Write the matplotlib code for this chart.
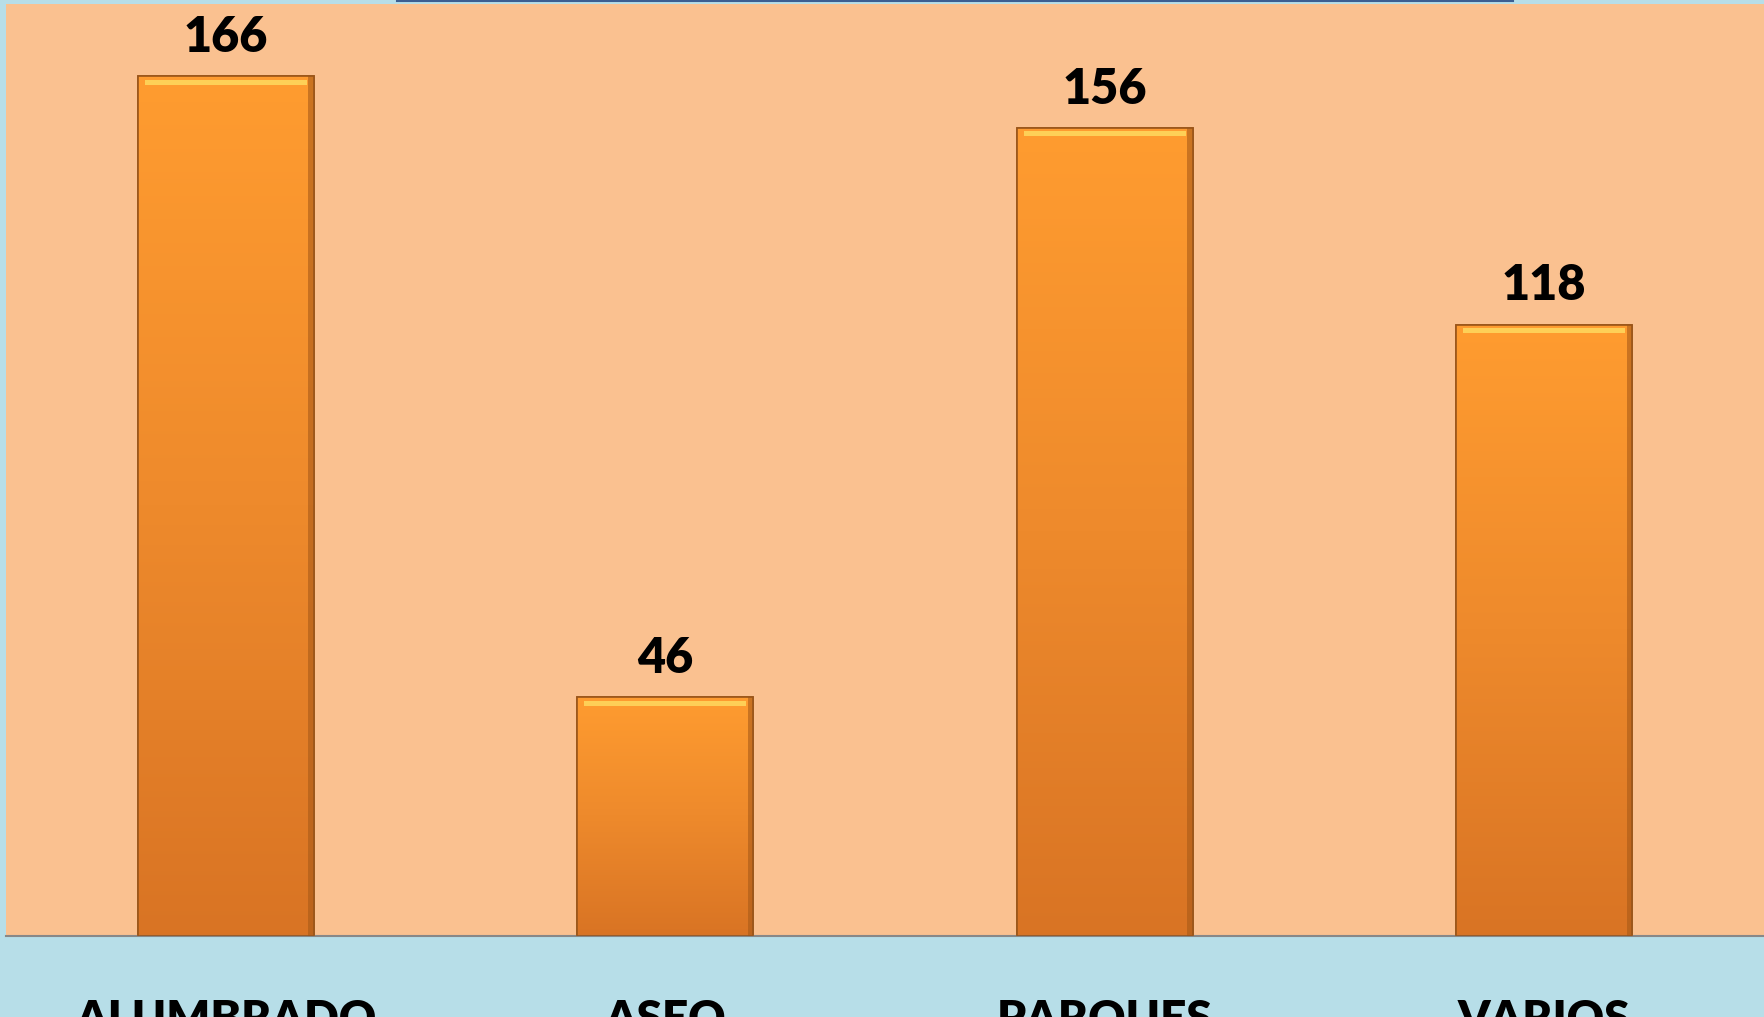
import numpy as np
import matplotlib.pyplot as plt
from matplotlib.lines import Line2D
from matplotlib.colors import LinearSegmentedColormap

# Data
categories = ["ALUMBRADO", "ASEO", "PARQUES", "VARIOS"]
values = [166, 46, 156, 118]

plt.rcParams['font.family'] = ['Lato', 'DejaVu Sans']

fig = plt.figure(figsize=(17.64, 10.17), dpi=100, facecolor="#B7DEE8")
ax = fig.add_axes([6/1764, 1 - 935.5/1017, 1 - 6/1764, (935.5 - 4)/1017])
ax.set_facecolor("#FAC190")

x = np.arange(len(categories))
bars = ax.bar(x, values, width=0.40, color="#F58A2C", edgecolor="#9A5519",
              linewidth=1.2, zorder=2)

# vertical gradient on each bar
grad = np.linspace(0, 1, 256).reshape(-1, 1)
cmap = LinearSegmentedColormap.from_list("bar", ["#D97424", "#EE8A2C", "#FF9C30"])
for b in bars:
    x0, w, h = b.get_x(), b.get_width(), b.get_height()
    im = ax.imshow(grad, extent=[x0, x0 + w, 0, h], origin="lower", cmap=cmap,
                   aspect="auto", zorder=2.5)
    im.set_clip_path(b)
    # top highlight strip
    ax.fill_between([x0 + w*0.04, x0 + w*0.96], h - 1.6, h - 0.6,
                    color="#FFD65C", alpha=0.9, zorder=3, linewidth=0)
    # right side shadow
    ax.fill_between([x0 + w*0.97, x0 + w], 0, h, color="#A85A18", alpha=0.6,
                    zorder=3, linewidth=0)
    ax.bar(b.get_x() + w/2, h, width=w, fill=False, edgecolor="#9A5519",
           linewidth=1.2, zorder=4)
    ax.text(b.get_x() + w/2, h + 3.2, f"{int(h)}", ha="center", va="bottom",
            fontsize=35, fontweight="heavy", color="black")

ax.set_xlim(-0.5, 3.5)
ax.set_ylim(0, 180)
ax.set_xticks(x)
ax.set_xticklabels(categories, fontsize=33, fontweight="heavy")
ax.tick_params(axis="x", length=0, pad=46)
ax.set_yticks([])
for s in ["top", "left", "right"]:
    ax.spines[s].set_visible(False)
ax.spines["bottom"].set_color("#888888")
ax.spines["bottom"].set_linewidth(1.5)

fig.add_artist(Line2D([397/1764, 1513/1764], [1 - 0.8/1017, 1 - 0.8/1017],
                      color="#3B5E91", linewidth=1.5))

fig.savefig("out.png", dpi=100, facecolor=fig.get_facecolor())
